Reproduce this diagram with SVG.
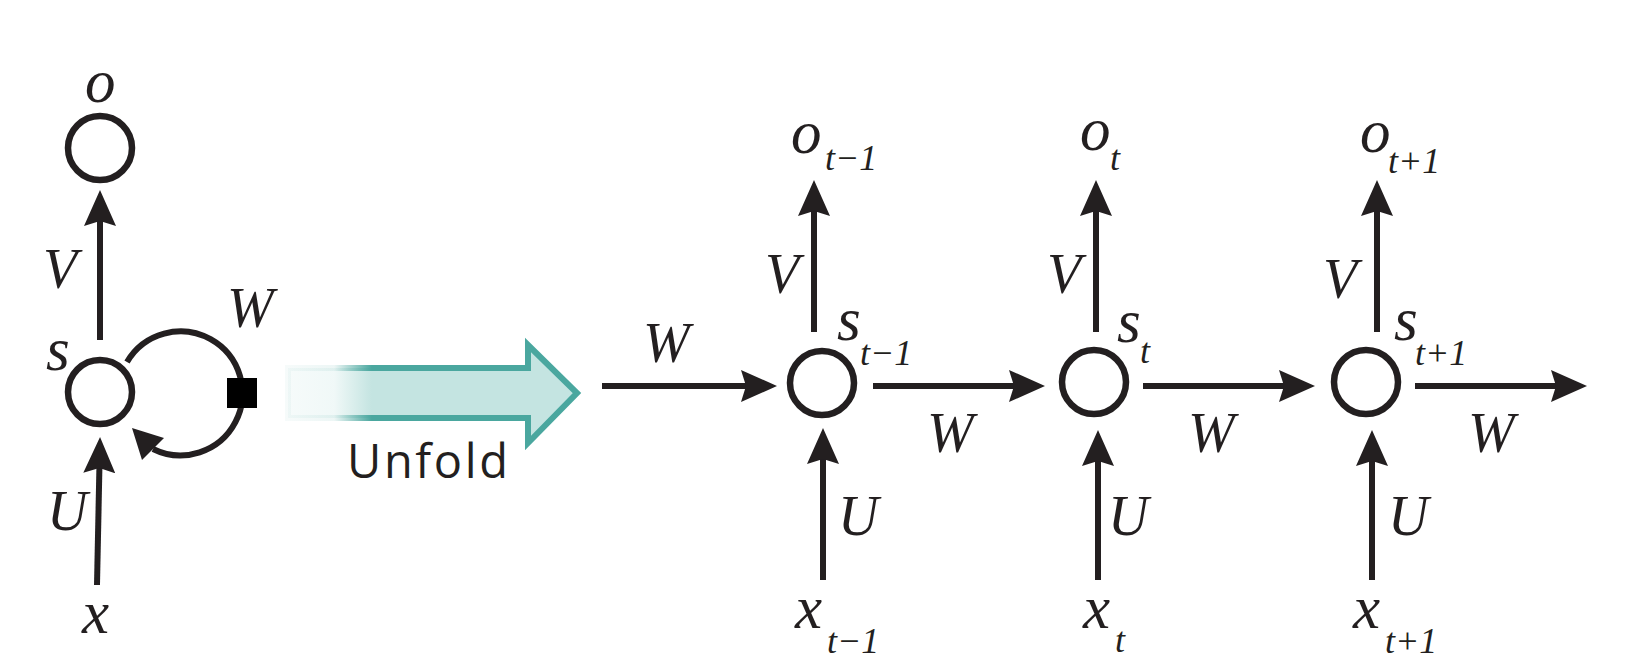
<svg xmlns="http://www.w3.org/2000/svg" width="1650" height="672" viewBox="0 0 1650 672">
<style>
.m{font-family:"Liberation Serif","Times New Roman",serif;font-style:italic;font-size:56px;fill:#231f20}
.lc{font-size:61px}
.sub{font-size:36px}
.node{fill:none;stroke:#231f20;stroke-width:6.5}
.edge{fill:none;stroke:#231f20;stroke-width:6;marker-end:url(#ah)}
.unf{font-family:"Open Sans","Liberation Sans",sans-serif;font-size:47px;fill:#231f20}
</style>
<defs>
<marker id="ah" markerUnits="userSpaceOnUse" markerWidth="40" markerHeight="34" viewBox="0 0 40 34" refX="10" refY="17" orient="auto">
<path d="M0,1 L36,17 L0,33 L5,17 Z" fill="#231f20"/>
</marker>
<linearGradient id="gf" gradientUnits="userSpaceOnUse" x1="288" y1="0" x2="577" y2="0">
<stop offset="0" stop-color="#c4e4e1" stop-opacity="0.15"/>
<stop offset="0.16" stop-color="#c4e4e1" stop-opacity="0.25"/>
<stop offset="0.29" stop-color="#c4e4e1" stop-opacity="1"/>
<stop offset="1" stop-color="#c4e4e1" stop-opacity="1"/>
</linearGradient>
<linearGradient id="gs" gradientUnits="userSpaceOnUse" x1="288" y1="0" x2="577" y2="0">
<stop offset="0" stop-color="#4aa79f" stop-opacity="0.05"/>
<stop offset="0.16" stop-color="#4aa79f" stop-opacity="0.1"/>
<stop offset="0.29" stop-color="#4aa79f" stop-opacity="1"/>
<stop offset="1" stop-color="#4aa79f" stop-opacity="1"/>
</linearGradient>
</defs>
<rect width="1650" height="672" fill="#ffffff"/>

<g id="connectors">
<line class="edge" x1="100" y1="340" x2="100" y2="216"/>
<line class="edge" x1="97" y1="585" x2="99.5" y2="463"/>
<path d="M127,362 A62,62 0 1,1 153,449" fill="none" stroke="#231f20" stroke-width="6"/>
<polygon points="132,428 164,438 153,449 142,460" fill="#231f20"/>
<rect x="227" y="378" width="30" height="30" fill="#000000"/>

<line class="edge" x1="602" y1="386" x2="751" y2="386"/>
<line class="edge" x1="814" y1="332" x2="814" y2="206"/>
<line class="edge" x1="873" y1="386" x2="1019" y2="386"/>
<line class="edge" x1="823" y1="580" x2="823" y2="454"/>

<line class="edge" x1="1096" y1="332" x2="1096" y2="206"/>
<line class="edge" x1="1143" y1="386" x2="1289" y2="386"/>
<line class="edge" x1="1098" y1="580" x2="1098" y2="456"/>

<line class="edge" x1="1377" y1="332" x2="1377" y2="206"/>
<line class="edge" x1="1415" y1="386" x2="1561" y2="386"/>
<line class="edge" x1="1372" y1="580" x2="1372" y2="456"/>
</g>

<g id="label-left">
<text class="m" x="43" y="288">V</text>
<text class="m" x="47" y="530">U</text>
<text class="m" x="227" y="327">W</text>
<text class="m lc" x="82" y="633">x</text>
</g>

<g id="node-o">
<circle class="node" cx="100" cy="148" r="32"/>
<text class="m lc" x="85" y="102">o</text>
</g>
<g id="node-s">
<circle class="node" cx="100" cy="392" r="32"/>
<text class="m lc" x="46" y="370">s</text>
</g>

<g id="unfold">
<polygon points="288,368 528,368 528,345 577,393 528,443 528,418 288,418" fill="url(#gf)" stroke="url(#gs)" stroke-width="6" stroke-linejoin="miter"/>
<text class="unf" x="347" y="478" textLength="161">Unfold</text>
</g>

<g id="node-t-1">
<circle class="node" cx="822" cy="383" r="32"/>
<text class="m lc" x="837" y="340">s<tspan class="sub" x="860" y="365">t−1</tspan></text>
<text class="m lc" x="791" y="153">o<tspan class="sub" x="825" y="170">t−1</tspan></text>
<text class="m" x="765" y="293">V</text>
<text class="m" x="643" y="362">W</text>
<text class="m" x="927" y="452">W</text>
<text class="m" x="838" y="535">U</text>
<text class="m lc" x="795" y="628">x<tspan class="sub" x="827" y="653">t−1</tspan></text>
</g>

<g id="node-t">
<circle class="node" cx="1094" cy="382" r="32"/>
<text class="m lc" x="1117" y="342">s<tspan class="sub" x="1140" y="363">t</tspan></text>
<text class="m lc" x="1080" y="150">o<tspan class="sub" x="1110" y="170">t</tspan></text>
<text class="m" x="1047" y="293">V</text>
<text class="m" x="1188" y="452">W</text>
<text class="m" x="1108" y="535">U</text>
<text class="m lc" x="1083" y="628">x<tspan class="sub" x="1115" y="652">t</tspan></text>
</g>

<g id="node-t+1">
<circle class="node" cx="1366" cy="382" r="32"/>
<text class="m lc" x="1394" y="340">s<tspan class="sub" x="1415" y="365">t+1</tspan></text>
<text class="m lc" x="1360" y="152">o<tspan class="sub" x="1388" y="173">t+1</tspan></text>
<text class="m" x="1323" y="298">V</text>
<text class="m" x="1468" y="452">W</text>
<text class="m" x="1388" y="535">U</text>
<text class="m lc" x="1353" y="628">x<tspan class="sub" x="1385" y="653">t+1</tspan></text>
</g>
</svg>
